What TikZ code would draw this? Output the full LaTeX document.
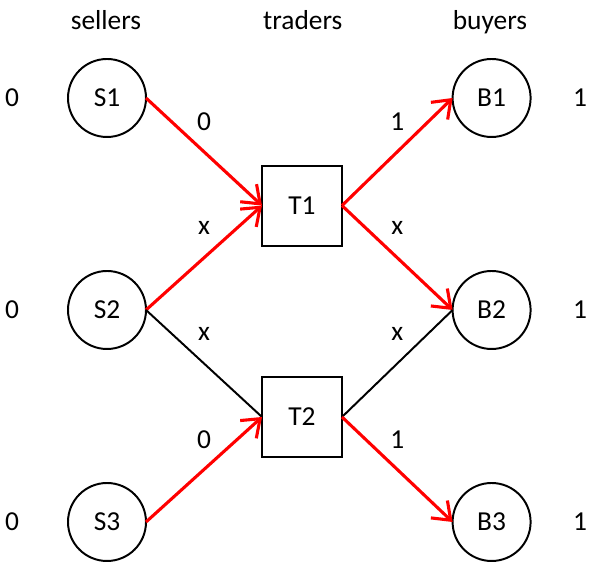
\documentclass[tikz,border=0pt]{standalone}
\usepackage{fontspec}
\setmainfont{Carlito}
\usetikzlibrary{arrows.meta}
\begin{document}
\begin{tikzpicture}[inner sep=0pt,outer sep=0pt,line width=1.4pt,
  font=\fontsize{19.5}{23}\selectfont,
  agent/.style={draw,circle,minimum size=1.95cm},
  trader/.style={draw,rectangle,minimum width=2cm,minimum height=2cm},
  used/.style={red,line width=2.2pt,-{Straight Barb[length=4mm,width=6mm,line width=2.2pt]}},
  lbl/.style={midway,yshift=0.75cm}]
\useasboundingbox (0,0) rectangle (14.775,14.3);
% column heads
\draw (2.65,13.55) node[anchor=base] (hs) {sellers};
\draw (7.57,13.55) node[anchor=base] (ht) {traders};
\draw (12.25,13.55) node[anchor=base] (hb) {buyers};
% sellers and buyers
\draw (2.675,11.85) node[agent] (S1) {S1};
\draw (2.675,6.55) node[agent] (S2) {S2};
\draw (2.675,1.25) node[agent] (S3) {S3};
\draw (12.29,11.85) node[agent] (B1) {B1};
\draw (12.29,6.55) node[agent] (B2) {B2};
\draw (12.29,1.25) node[agent] (B3) {B3};
\draw (7.55,9.16) node[trader] (T1) {T1};
\draw (7.55,3.875) node[trader] (T2) {T2};
% values
\draw (0.3,11.85) node (v1) {0};
\draw (0.3,6.55) node (v2) {0};
\draw (0.3,1.25) node (v3) {0};
\draw (14.5,11.85) node (w1) {1};
\draw (14.5,6.55) node (w2) {1};
\draw (14.5,1.25) node (w3) {1};
% links
\draw[used] (S1.east) -- (T1.west) node[lbl,black] {0};
\draw[used] (S2.east) -- (T1.west) node[lbl,black] {x};
\draw (S2.east) -- (T2.west) node[lbl] {x};
\draw[used] (S3.east) -- (T2.west) node[lbl,black] {0};
\draw[used] (T1.east) -- (B1.west) node[lbl,black] {1};
\draw[used] (T1.east) -- (B2.west) node[lbl,black] {x};
\draw (T2.east) -- (B2.west) node[lbl] {x};
\draw[used] (T2.east) -- (B3.west) node[lbl,black] {1};
\end{tikzpicture}
\end{document}
